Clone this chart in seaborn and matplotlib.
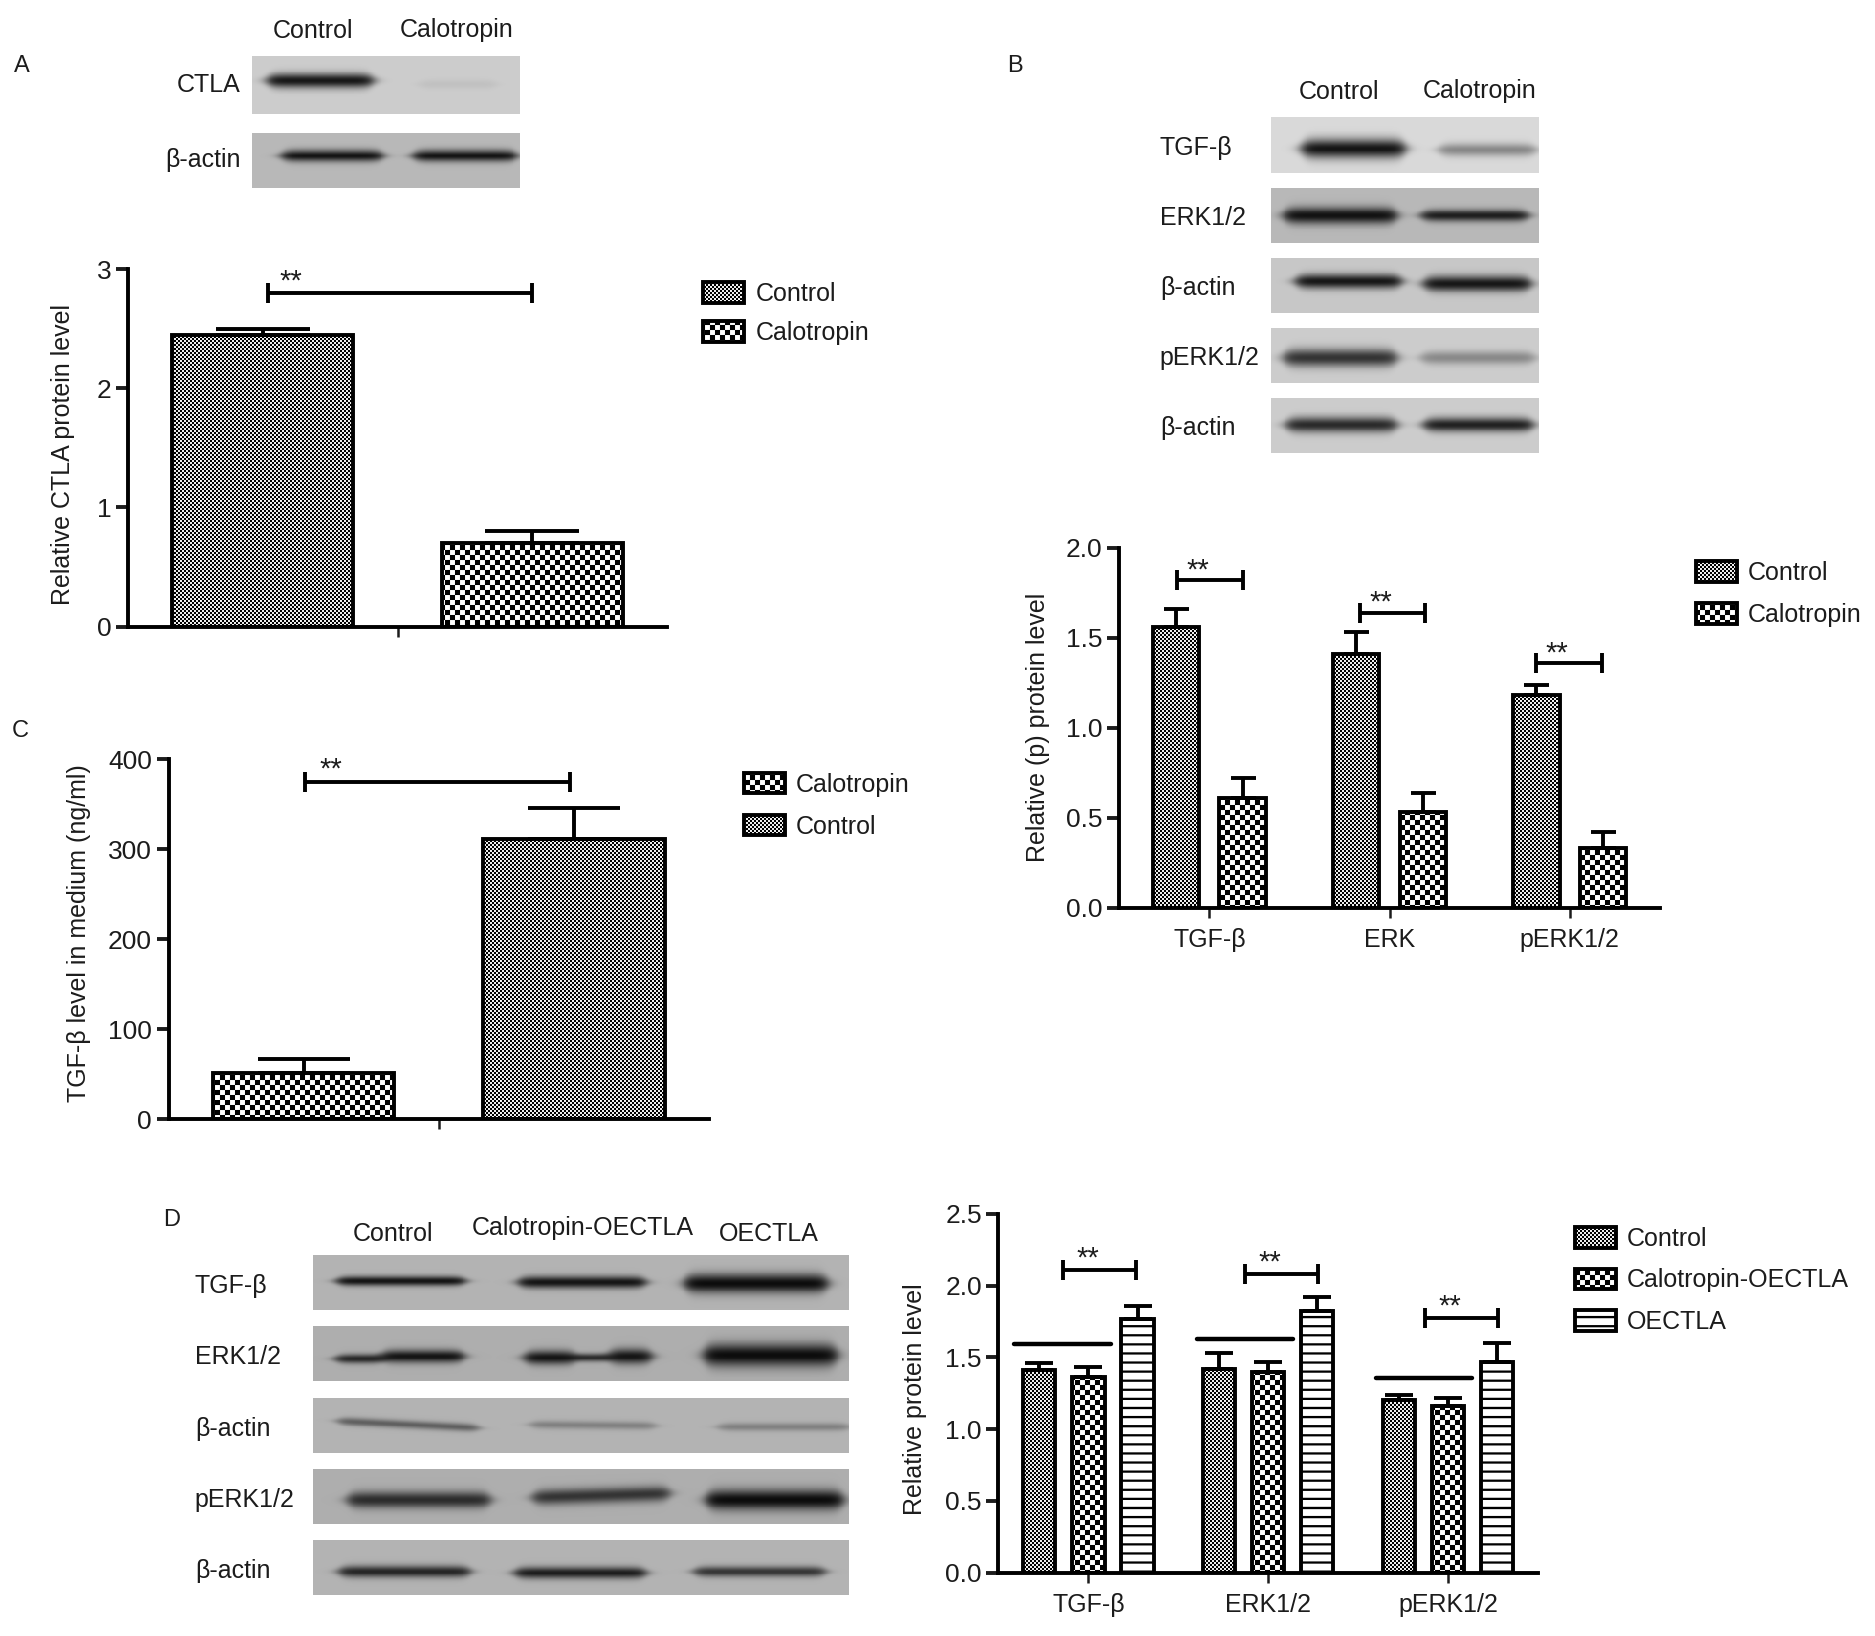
"""
Western blot and densitometry figure, panels A to D.
"""

import warnings

import matplotlib
matplotlib.use("Agg")
import matplotlib.hatch as mhatch
import matplotlib.patches as mpatches
import matplotlib.pyplot as plt
from matplotlib.path import Path
import numpy as np
import pandas as pd
import seaborn as sns

warnings.filterwarnings("ignore")

# Panel A
a_groups = ["CTLA"]
a_series = ["Control", "Calotropin"]
a_values = {"Control": [2.45], "Calotropin": [0.70]}
a_tops = {"Control": [2.50], "Calotropin": [0.80]}

# Panel B
b_groups = ["TGF-β", "ERK", "pERK1/2"]
b_series = ["Control", "Calotropin"]
b_values = {"Control": [1.56, 1.41, 1.18], "Calotropin": [0.61, 0.53, 0.33]}
b_tops = {"Control": [1.66, 1.53, 1.24], "Calotropin": [0.72, 0.64, 0.42]}

# Panel C
c_groups = ["TGF-β"]
c_series = ["Calotropin", "Control"]
c_values = {"Calotropin": [51], "Control": [312]}
c_tops = {"Calotropin": [67], "Control": [346]}

# Panel D
d_groups = ["TGF-β", "ERK1/2", "pERK1/2"]
d_series = ["Control", "Calotropin-OECTLA", "OECTLA"]
d_values = {"Control": [1.41, 1.42, 1.20],
            "Calotropin-OECTLA": [1.36, 1.40, 1.16],
            "OECTLA": [1.77, 1.82, 1.47]}
d_tops = {"Control": [1.46, 1.53, 1.24],
          "Calotropin-OECTLA": [1.43, 1.47, 1.22],
          "OECTLA": [1.86, 1.92, 1.60]}

# Significance brackets: x start, x end, y
a_brackets = [(-0.24, 0.25, 2.80)]
b_brackets = [(-0.18, 0.185, 1.82), (0.834, 1.199, 1.64), (1.815, 2.18, 1.36)]
c_brackets = [(-0.248, 0.243, 375)]
d_brackets = [(-0.14, 0.267, 2.11), (0.873, 1.28, 2.08), (1.873, 2.28, 1.775)]
d_lines = [(-0.413, 0.127, 1.59), (0.607, 1.14, 1.625), (1.6, 2.133, 1.358)]

# Blot strips: label, background grey, bands (x0, x1, y centre, half thickness, darkness, tilt)
a_blots = [
    ("CTLA", 47, 95, 0.80, [(223, 312, 67, 6, 0.95, 0), (350, 415, 70, 4, 0.06, 0)]),
    ("β-actin", 111, 157, 0.72, [(235, 320, 130, 5, 0.97, 0), (345, 432, 130, 5, 0.97, 0)]),
]
b_blots = [
    ("TGF-β", 98, 145, 0.85, [(1088, 1175, 124, 8, 0.97, 0), (1203, 1284, 125, 5.5, 0.4, 0)]),
    ("ERK1/2", 157, 203, 0.72, [(1073, 1168, 180, 7, 0.97, 0), (1188, 1278, 180, 5, 0.9, 0)]),
    ("β-actin", 216, 262, 0.78, [(1083, 1172, 235, 6, 0.95, 0), (1190, 1280, 237, 6.5, 0.95, 0)]),
    ("pERK1/2", 274, 320, 0.80, [(1073, 1168, 299, 7.5, 0.8, 0), (1188, 1283, 299, 5.5, 0.35, 0)]),
    ("β-actin", 333, 379, 0.80, [(1075, 1168, 355, 6.5, 0.85, 0), (1190, 1282, 355, 6, 0.9, 0)]),
]
d_blots = [
    ("TGF-β", 1049, 1095, 0.70, [(281, 389, 1071, 4, 0.95, 0), (433, 540, 1072, 5, 0.95, 0),
                                 (572, 692, 1073, 8, 1, 0)]),
    ("ERK1/2", 1109, 1155, 0.68, [(280, 322, 1136, 4, 0.85, 0), (318, 388, 1134, 5.5, 0.95, 0),
                                  (438, 482, 1135, 6, 0.95, 0), (478, 512, 1135, 3.5, 0.8, 0),
                                  (508, 545, 1134, 6.5, 0.95, 0), (588, 700, 1133, 9.5, 1, 0)]),
    ("β-actin", 1169, 1215, 0.70, [(282, 400, 1188, 3.5, 0.5, 0.05), (443, 548, 1191, 3.5, 0.3, 0.01),
                                   (600, 710, 1193, 3.5, 0.3, 0)]),
    ("pERK1/2", 1228, 1274, 0.68, [(290, 410, 1254, 7, 0.8, 0), (445, 560, 1252, 6.5, 0.75, -0.03),
                                   (590, 705, 1254, 8.5, 1, 0)]),
    ("β-actin", 1288, 1334, 0.70, [(283, 393, 1314, 5, 0.85, 0), (430, 540, 1315, 5, 0.9, 0),
                                   (580, 690, 1314, 4.5, 0.75, 0)]),
]

INK = "#1c1c1c"
LW = 2.8
FILLS = {"Control": "f", "Calotropin": "c", "Calotropin-OECTLA": "c", "OECTLA": "h"}


class BlockHatch(mhatch.HatchPatternBase):
    """Checker and stripe fills, which the stock hatch patterns do not have."""

    def __init__(self, hatch, density):
        self.rects = []
        if "c" in hatch:
            self.rects += self.checker(20)
        if "f" in hatch:
            self.rects += self.checker(50)
        if "h" in hatch:
            self.rects += [(0, i / 11, 1, i / 11 + 0.022) for i in range(11)]
        self.num_vertices = 5 * len(self.rects)

    @staticmethod
    def checker(n):
        return [(i / n, j / n, (i + 1) / n, (j + 1) / n)
                for i in range(n) for j in range(n) if (i + j) % 2 == 0]

    def set_vertices_and_codes(self, vertices, codes):
        for k, (x0, y0, x1, y1) in enumerate(self.rects):
            vertices[5 * k:5 * k + 5] = [(x0, y0), (x1, y0), (x1, y1), (x0, y1), (x0, y0)]
            codes[5 * k:5 * k + 5] = [Path.MOVETO, Path.LINETO, Path.LINETO, Path.LINETO, Path.CLOSEPOLY]


mhatch._hatch_types.append(BlockHatch)

sns.set_theme(style="white")
plt.rcParams["font.family"] = ["Liberation Sans", "DejaVu Sans"]
plt.rcParams["hatch.linewidth"] = 0.05
plt.rcParams["text.color"] = INK
plt.rcParams["axes.labelcolor"] = INK
plt.rcParams["xtick.color"] = INK
plt.rcParams["ytick.color"] = INK

fig = plt.figure(figsize=(18.75, 16.36), dpi=100)


def fx(x):
    return x / 1568


def fy(y):
    return 1 - y / 1368


def panel_axes(x0, y0, x1, y1):
    return fig.add_axes([fx(x0), fy(y1), fx(x1) - fx(x0), fy(y0) - fy(y1)])


def label(x, y, text, ha="left", size=18):
    fig.text(fx(x), fy(y), text, ha=ha, va="center", fontsize=size)


def draw_blot(x0, x1, y0, y1, background, bands):
    ax = panel_axes(x0, y0, x1, y1)
    xs = np.arange(x0, x1, 0.8)
    ys = np.arange(y0, y1, 0.8)
    xx, yy = np.meshgrid(xs, ys)
    image = np.full(xx.shape, background, dtype=float)
    for bx0, bx1, yc, half, dark, tilt in bands:
        along = 0.5 * (np.tanh((xx - bx0) / 6) - np.tanh((xx - bx1) / 6))
        # bands taper towards their ends
        thick = half * (0.45 + 0.55 * along)
        across = np.exp(-((yy - yc - tilt * (xx - bx0)) / thick) ** 2)
        image *= 1 - 0.93 * dark * along * across
    sns.heatmap(image, cmap="gray", vmin=0, vmax=1, cbar=False, ax=ax,
                xticklabels=False, yticklabels=False)
    ax.set_axis_off()


def draw_bars(rect, groups, series, values, tops, ylim, yticks, width, gap, cap,
              ylabel, ylabel_pos, ticklabels, yfmt="{:g}"):
    ax = panel_axes(*rect)
    df = pd.DataFrame({
        "group": [g for s in series for g in groups],
        "series": [s for s in series for g in groups],
        "value": [v for s in series for v in values[s]],
    })
    sns.barplot(data=df, x="group", y="value", hue="series", order=groups, hue_order=series,
                width=width, gap=gap, errorbar=None, legend=False, saturation=1, ax=ax)
    for container, name in zip(ax.containers, series):
        for bar, top in zip(container, tops[name]):
            bar.set_facecolor("white")
            bar.set_edgecolor("black")
            bar.set_hatch(FILLS[name])
            bar.set_linewidth(LW)
            centre = bar.get_x() + bar.get_width() / 2
            ax.errorbar(centre, bar.get_height(), yerr=[[0], [top - bar.get_height()]],
                        color="black", elinewidth=LW, capsize=cap, capthick=LW, zorder=1)
    ax.set_xlim(-0.5, len(groups) - 0.5)
    ax.set_ylim(*ylim)
    ax.set_yticks(yticks)
    ax.set_yticklabels([yfmt.format(t) for t in yticks])
    ax.set_xticks(range(len(groups)))
    ax.set_xticklabels(ticklabels)
    ax.tick_params(axis="y", length=9, width=LW, labelsize=19, pad=3, left=True)
    ax.tick_params(axis="x", length=7.5, width=1.8, labelsize=18, pad=7, bottom=True)
    ax.set_xlabel("")
    ax.set_ylabel(ylabel, fontsize=18)
    ax.yaxis.set_label_coords(fx(ylabel_pos[0] + 13), fy(ylabel_pos[1]), transform=fig.transFigure)
    sns.despine(ax=ax)
    for side in ["left", "bottom"]:
        ax.spines[side].set_linewidth(LW)
        ax.spines[side].set_color("black")
    ax.set_facecolor("none")
    return ax


def draw_brackets(ax, brackets, cap, star_dx, star_dy):
    for x0, x1, y in brackets:
        ax.errorbar((x0 + x1) / 2, y, xerr=(x1 - x0) / 2, color="black",
                    elinewidth=LW, capsize=cap, capthick=LW)
        ax.annotate("**", (x0, y), xytext=(star_dx, star_dy), textcoords="offset points",
                    ha="center", va="center", fontsize=21)


def draw_legend(series, x, y, spacing):
    handles = [mpatches.Patch(facecolor="white", edgecolor="black", hatch=FILLS[s], linewidth=LW)
               for s in series]
    fig.legend(handles, series, loc="upper left", bbox_to_anchor=(fx(x), fy(y)),
               frameon=False, fontsize=18, handlelength=1.64, handleheight=0.9,
               handletextpad=0.45, labelspacing=spacing, borderpad=0, borderaxespad=0)


# Panel A
label(12, 55, "A", size=17)
label(262, 26, "Control", ha="center")
label(382, 25, "Calotropin", ha="center")
for name, y0, y1, grey, bands in a_blots:
    draw_blot(211, 435, y0, y1, grey, bands)
    label(201, (y0 + y1) / 2, name, ha="right")
ax_a = draw_bars((107, 225, 558, 524), a_groups, a_series, a_values, a_tops, (0, 3), [0, 1, 2, 3],
                 1.0, 0.33, 34, "Relative CTLA protein level", (50, 380), [""])
draw_brackets(ax_a, a_brackets, 7, 16, 8)
draw_legend(a_series, 588, 236, 0.6)

# Panel B
label(842, 55, "B", size=17)
label(1120, 77, "Control", ha="center")
label(1237, 76, "Calotropin", ha="center")
for name, y0, y1, grey, bands in b_blots:
    draw_blot(1063, 1287, y0, y1, grey, bands)
    label(970, (y0 + y1) / 2 + 2, name)
ax_b = draw_bars((936, 458, 1388, 759), b_groups, b_series, b_values, b_tops, (0, 2),
                 [0, 0.5, 1, 1.5, 2], 0.742, 0.30, 9, "Relative (p) protein level", (865, 608),
                 b_groups, yfmt="{:.1f}")
draw_brackets(ax_b, b_brackets, 7, 15, 7)
draw_legend(b_series, 1418, 469, 0.72)

# Panel C
label(10, 611, "C", size=17)
ax_c = draw_bars((141, 635, 593, 936), c_groups, c_series, c_values, c_tops, (0, 400),
                 [0, 100, 200, 300, 400], 1.0, 0.33, 33, "TGF-β level in medium (ng/ml)", (63, 780), [""])
draw_brackets(ax_c, c_brackets, 7, 19, 9)
draw_legend(c_series, 622, 646, 0.72)

# Panel D
label(136, 1020, "D", size=17)
label(329, 1032, "Control", ha="center")
label(487, 1027, "Calotropin-OECTLA", ha="center")
label(643, 1032, "OECTLA", ha="center")
for name, y0, y1, grey, bands in d_blots:
    draw_blot(262, 710, y0, y1, grey, bands)
    label(163, (y0 + y1) / 2 + 3, name)
ax_d = draw_bars((835, 1015, 1286, 1315), d_groups, d_series, d_values, d_tops, (0, 2.5),
                 [0, 0.5, 1, 1.5, 2, 2.5], 0.82, 0.34, 10, "Relative protein level", (762, 1170),
                 d_groups, yfmt="{:.1f}")
draw_brackets(ax_d, d_brackets, 7, 18, 8)
for x0, x1, y in d_lines:
    ax_d.plot([x0, x1], [y, y], color="black", lw=3.2)
draw_legend(d_series, 1317, 1026, 0.7)

fig.savefig("out.png", dpi=100)
